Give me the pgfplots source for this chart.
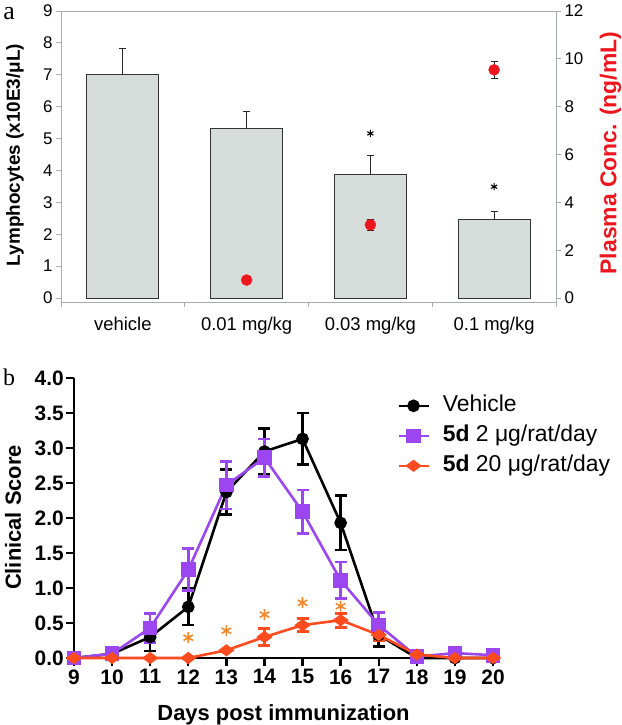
\documentclass[border=0pt]{standalone}
\usepackage{fontspec}
\setmainfont{Liberation Sans}
\newfontfamily\seriffont{Liberation Serif}
\usepackage{pgfplots}
\pgfplotsset{compat=1.18}
\definecolor{axgray}{RGB}{165,172,172}
\definecolor{barfill}{RGB}{214,220,218}
\definecolor{ptred}{RGB}{238,22,30}
\definecolor{cpurple}{RGB}{155,70,240}
\definecolor{corange}{RGB}{255,75,30}
\definecolor{castr}{RGB}{245,135,45}
\begin{document}
\begin{tikzpicture}
\useasboundingbox (0bp,0bp) rectangle (622bp,725bp);
\node[font=\seriffont\fontsize{26}{28}\selectfont] at (9bp,711bp) {a};
\node[font=\seriffont\fontsize{24}{26}\selectfont] at (9bp,348bp) {b};
% ---------- panel a: bars ----------
\begin{axis}[
  at={(61bp,423bp)}, anchor=south west, scale only axis,
  width=495bp, height=291bp,
  xmin=0.5, xmax=4.5, ymin=-0.125, ymax=9,
  axis line style={draw=axgray, line width=0.8bp},
  tick align=outside, major tick length=5bp,
  tick style={draw=axgray, line width=0.8bp},
  ytick={0,...,9}, ytick pos=left,
  xtick={0.5,1.5,2.5,3.5,4.5}, xticklabels={}, xtick pos=bottom,
  extra x ticks={1,2,3,4},
  extra x tick labels={vehicle,0.01 mg/kg,0.03 mg/kg,0.1 mg/kg},
  extra x tick style={major tick length=0pt, tick label style={yshift=-12bp, font=\fontsize{18.5}{20}\selectfont}},
  /pgf/number format/assume math mode=true,
  tick label style={font=\fontsize{17}{19}\selectfont, black},
  ylabel={\bfseries Lymphocytes (x10E3/μL)},
  ylabel style={font=\fontsize{19}{21}\selectfont, at={(axis description cs:-0.0929,0.505)}, anchor=center},
  clip=false,
]
\addplot[ybar, bar width=72bp, fill=barfill, draw=black!80, line width=0.8bp,
  error bars/.cd, y dir=plus, y explicit,
  error bar style={black!85, line width=0.8bp},
  error mark options={rotate=90, mark size=3.5bp, black!85, line width=0.8bp}]
  coordinates {(1,7.00) +- (0,0.82) (2,5.33) +- (0,0.52) (3,3.87) +- (0,0.59) (4,2.45) +- (0,0.27)};
\addplot[only marks, mark=asterisk, mark size=3.5bp, black, line width=1.1bp]
  coordinates {(3,5.16) (4,3.49)};
\end{axis}
\begin{axis}[
  at={(61bp,423bp)}, anchor=south west, scale only axis,
  width=495bp, height=291bp,
  xmin=0.5, xmax=4.5, ymin=-0.1667, ymax=12,
  axis y line*=right, axis x line=none,
  axis line style={draw=axgray, line width=0.8bp},
  tick align=outside, major tick length=5bp,
  tick style={draw=axgray, line width=0.8bp},
  ytick={0,2,...,12},
  /pgf/number format/assume math mode=true,
  tick label style={font=\fontsize{17}{19}\selectfont, black},
  ylabel={\bfseries Plasma Conc. (ng/mL)},
  ylabel style={font=\fontsize{23}{25}\selectfont, ptred, at={(axis description cs:1.110,0.512)}, anchor=center},
  clip=false,
]
\addplot[only marks, mark=*, mark size=5.5bp, ptred, draw=none,
  error bars/.cd, y dir=both, y explicit,
  error bar style={black!85, line width=0.9bp},
  error mark options={rotate=90, mark size=3.5bp, black!85, line width=0.9bp}]
  coordinates {(2,0.75) +- (0,0) (3,3.06) +- (0,0.24) (4,9.54) +- (0,0.35)};
\end{axis}
% ---------- panel b: clinical score ----------
\begin{axis}[
  at={(74bp,67bp)}, anchor=south west, scale only axis,
  width=419bp, height=280bp,
  xmin=9, xmax=20, ymin=0, ymax=4,
  axis lines*=left,
  axis line style={line width=2.6bp, black},
  tick align=outside, major tick length=8bp,
  tick style={line width=2.4bp, black},
  xtick={9,...,20}, ytick={0,0.5,...,4},
  /pgf/number format/assume math mode=true,
  yticklabel style={inner sep=2bp, /pgf/number format/.cd, fixed, fixed zerofill, precision=1},
  tick label style={font=\fontsize{21}{24}\selectfont\bfseries},
  xlabel={Days post immunization}, ylabel={Clinical Score},
  xlabel style={font=\fontsize{22}{24}\selectfont\bfseries, at={(axis description cs:0.5,-0.2036)}, anchor=center},
  ylabel style={font=\fontsize{22}{24}\selectfont\bfseries, at={(axis description cs:-0.1456,0.502)}, anchor=center},
  clip=false,
  legend style={at={(rel axis cs:0.771,0.946)}, anchor=north west, draw=none, fill=none,
    font=\fontsize{23}{25}\selectfont, row sep=5bp, inner sep=0pt,
    nodes={inner sep=2bp, text height=16bp, text depth=5bp},
    /tikz/every odd column/.append style={column sep=11bp}},
  legend cell align=left,
  legend image code/.code={\draw[mark repeat=2,mark phase=2,#1] plot coordinates {(0bp,0bp) (15bp,0bp) (30bp,0bp)};},
]
% vehicle
\addplot[forget plot, only marks, mark=none, error bars/.cd, y dir=both, y explicit,
  error bar style={black, line width=2.6bp},
  error mark options={rotate=90, mark size=6bp, black, line width=2.6bp}]
  coordinates {(11,0.30) +- (0,0.20) (12,0.73) +- (0,0.26) (13,2.37) +- (0,0.32) (14,2.95) +- (0,0.33)
               (15,3.13) +- (0,0.37) (16,1.93) +- (0,0.39) (17,0.33) +- (0,0.17)};
\addplot[black, line width=2.6bp, mark=*, mark size=5bp]
  coordinates {(9,0) (10,0.06) (11,0.30) (12,0.73) (13,2.37) (14,2.95) (15,3.13) (16,1.93) (17,0.33) (18,0) (19,0) (20,0)};
\addlegendentry{Vehicle}
% 2 ug
\addplot[forget plot, only marks, mark=none, error bars/.cd, y dir=both, y explicit,
  error bar style={cpurple, line width=2.6bp},
  error mark options={rotate=90, mark size=6bp, cpurple, line width=2.6bp}]
  coordinates {(11,0.43) +- (0,0.21) (12,1.26) +- (0,0.30) (13,2.47) +- (0,0.34) (14,2.86) +- (0,0.27)
               (15,2.09) +- (0,0.31) (16,1.11) +- (0,0.26) (17,0.47) +- (0,0.18)};
\addplot[cpurple, line width=2.6bp, mark=square*, mark size=6bp]
  coordinates {(9,0) (10,0.06) (11,0.43) (12,1.26) (13,2.47) (14,2.86) (15,2.09) (16,1.11) (17,0.47) (18,0.02) (19,0.07) (20,0.04)};
\addlegendentry{\textbf{5d} 2 μg/rat/day}
% 20 ug
\addplot[forget plot, only marks, mark=none, error bars/.cd, y dir=both, y explicit,
  error bar style={corange, line width=2.6bp},
  error mark options={rotate=90, mark size=6bp, corange, line width=2.6bp}]
  coordinates {(14,0.30) +- (0,0.12) (15,0.47) +- (0,0.09) (16,0.54) +- (0,0.10) (17,0.33) +- (0,0.08)};
\addplot[corange, line width=2.6bp, mark=diamond*, mark size=6bp, mark options={rotate=90}]
  coordinates {(9,0) (10,0) (11,0) (12,0) (13,0.11) (14,0.30) (15,0.47) (16,0.54) (17,0.33) (18,0.05) (19,0) (20,0)};
\addlegendentry{\textbf{5d} 20 μg/rat/day}
\addplot[forget plot, only marks, mark=asterisk, mark size=5.5bp, castr, line width=1.6bp]
  coordinates {(12,0.29) (13,0.39) (14,0.62) (15,0.79) (16,0.74)};
\end{axis}
\end{tikzpicture}
\end{document}
